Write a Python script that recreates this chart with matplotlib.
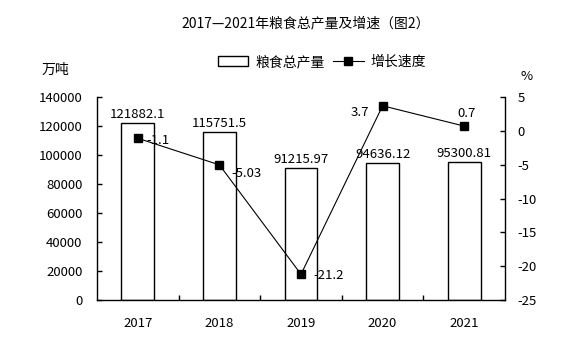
import matplotlib
matplotlib.use("Agg")
import matplotlib.pyplot as plt
from matplotlib.patches import Patch
from matplotlib.lines import Line2D
from matplotlib.ticker import FixedLocator

plt.rcParams['font.family'] = ['Noto Sans CJK SC', 'DejaVu Sans']
plt.rcParams['axes.unicode_minus'] = False

# Data
years = ['2017', '2018', '2019', '2020', '2021']
output = [121882.1, 115751.5, 91215.97, 94636.12, 95300.81]   # 万吨
growth = [-1.1, -5.03, -21.2, 3.7, 0.7]                         # %
left_ticks = [0, 20000, 40000, 60000, 80000, 100000, 120000, 140000]
right_ticks = [-25, -20, -15, -10, -5, 0, 5]

# Label offsets (points) for the growth values
growth_offsets = [(6.5, -1.5, 'left'), (8.6, -6.5, 'left'), (8.6, -0.7, 'left'),
                  (-9.4, -5.0, 'right'), (2.0, 9.4, 'center')]

FS = 9.5
fig = plt.figure(figsize=(5.85, 3.39), dpi=100)
ax = fig.add_axes([97 / 585, 1 - 300 / 339, 408 / 585, 203 / 339])
ax2 = ax.twinx()

x = list(range(len(years)))
ax.bar(x, output, width=0.40, facecolor='white', edgecolor='black', linewidth=1.0, zorder=2)
for xi, v in zip(x, output):
    ax.annotate(str(v), (xi, v), xytext=(0, 1.5), textcoords='offset points',
                ha='center', va='bottom', fontsize=FS)

ax.set_xlim(-0.5, len(years) - 0.5)
ax.set_ylim(0, 140000)
ax.set_yticks(left_ticks)
ax.set_yticklabels([str(t) for t in left_ticks])
ax.set_xticks(x)
ax.set_xticklabels(years)
ax.xaxis.set_minor_locator(FixedLocator([i + 0.5 for i in range(len(years) - 1)]))
ax.tick_params(axis='x', which='major', length=0, pad=12, labelsize=FS)
ax.tick_params(axis='x', which='minor', direction='in', length=3.5, width=1.0)
ax.tick_params(axis='y', direction='in', length=3.5, width=1.0, pad=10.5, labelsize=FS)
for s in ['top', 'right']:
    ax.spines[s].set_visible(False)
for s in ['left', 'bottom']:
    ax.spines[s].set_linewidth(1.0)

ax2.plot(x, growth, color='black', linewidth=0.8, marker='s', markersize=5.5,
         markerfacecolor='black', markeredgecolor='black', zorder=3)
for xi, v, (dx, dy, ha) in zip(x, growth, growth_offsets):
    ax2.annotate(str(v), (xi, v), xytext=(dx, dy), textcoords='offset points',
                 ha=ha, va='center', fontsize=FS)
ax2.set_ylim(-25, 5)
ax2.set_yticks(right_ticks)
ax2.set_yticklabels([str(t) for t in right_ticks])
ax2.tick_params(axis='y', direction='in', length=3.5, width=1.0, pad=9, labelsize=FS)
for s in ['top', 'left', 'bottom']:
    ax2.spines[s].set_visible(False)
ax2.spines['right'].set_linewidth(1.0)

fig.text(306 / 585, 1 - 23 / 339, '2017—2021年粮食总产量及增速（图2）',
         ha='center', va='center', fontsize=10)
fig.text(42 / 585, 1 - 70 / 339, '万吨', ha='left', va='center', fontsize=10)
fig.text(527 / 585, 1 - 77 / 339, '%', ha='center', va='center', fontsize=FS)

handles = [Patch(facecolor='white', edgecolor='black', linewidth=1.0),
           Line2D([], [], color='black', linewidth=0.8, marker='s', markersize=5.5)]
fig.legend(handles, ['粮食总产量', '增长速度'], ncol=2, frameon=False,
           loc='center', bbox_to_anchor=(322 / 585, 1 - 62 / 339), fontsize=10,
           handlelength=2.2, handleheight=0.7, handletextpad=0.5, columnspacing=0.6,
           borderpad=0, borderaxespad=0)

fig.savefig('out.png', dpi=100)
